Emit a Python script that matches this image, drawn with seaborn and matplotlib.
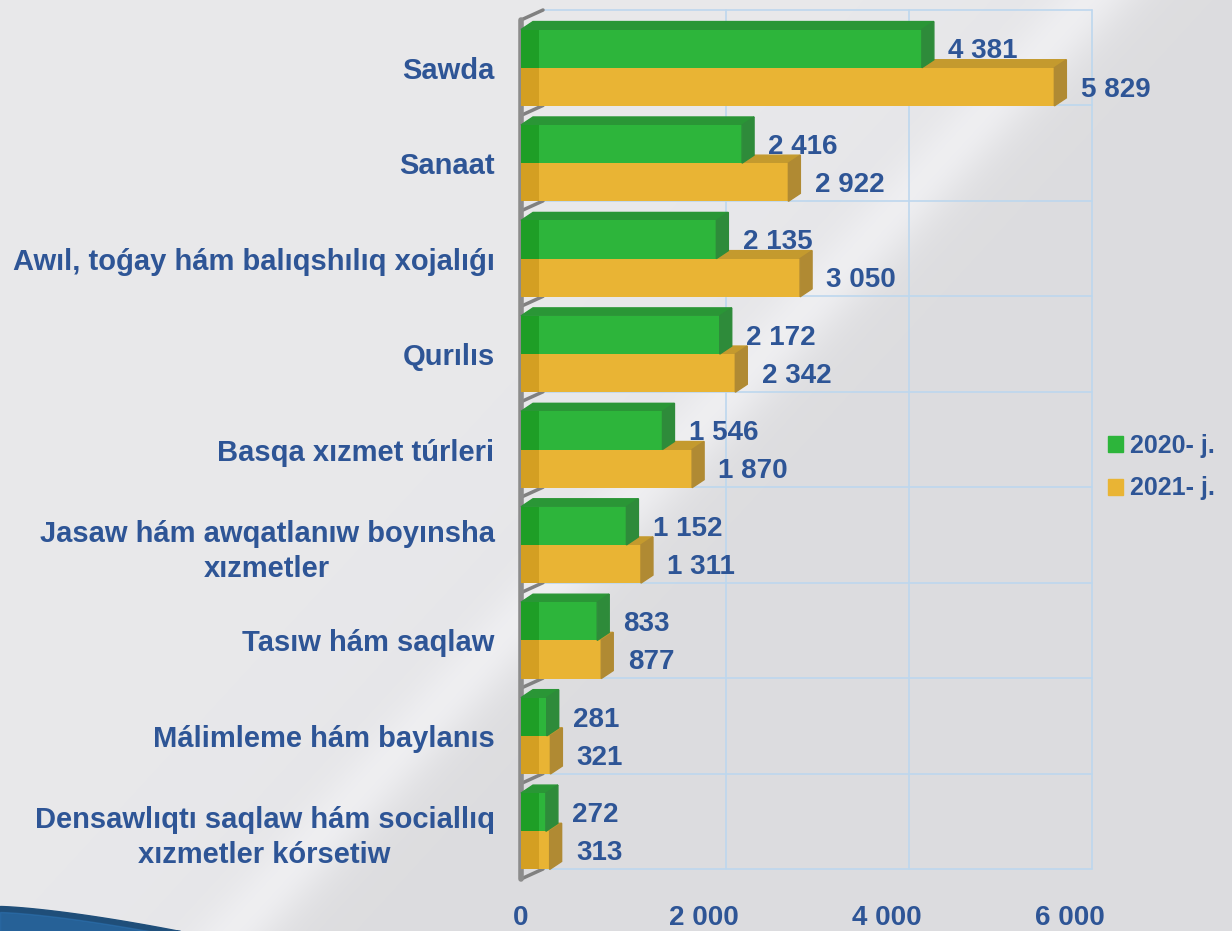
import numpy as np
import pandas as pd
import matplotlib.pyplot as plt
import seaborn as sns
from matplotlib.patches import Polygon, Rectangle

# data
sectors = ['Sawda', 'Sanaat', 'Awıl, toǵay hám balıqshılıq xojalıǵı', 'Qurılıs',
           'Basqa xızmet túrleri', 'Jasaw hám awqatlanıw boyınsha\nxızmetler',
           'Tasıw hám saqlaw', 'Málimleme hám baylanıs',
           'Densawlıqtı saqlaw hám sociallıq\nxızmetler kórsetiw']
years = ['2020- j.', '2021- j.']
values_2020 = [4381, 2416, 2135, 2172, 1546, 1152, 833, 281, 272]
values_2021 = [5829, 2922, 3050, 2342, 1870, 1311, 877, 321, 313]
x_ticks = [0, 2000, 4000, 6000]
x_tick_labels = ['0', '2 000', '4 000', '6 000']

df = pd.DataFrame({
    'sector': sectors * 2,
    'year': [years[0]] * len(sectors) + [years[1]] * len(sectors),
    'value': values_2020 + values_2021,
})

sns.set_theme(style='white')
plt.rcParams['font.family'] = ['Liberation Sans', 'DejaVu Sans']

W, H = 1232, 931
txt = '#2E5596'
green, gold = '#2DB53B', '#E9B434'
green_dark, gold_dark = '#1E9E26', '#D49F22'
green_side, gold_side = '#2E8B3A', '#B08A33'
green_top, gold_top = '#2A9636', '#C49A2E'
grid_c = '#BDD7EE'

fig = plt.figure(figsize=(W / 100, H / 100), dpi=100)

# background: soft gray with a light diagonal edge
bg = fig.add_axes([0, 0, 1, 1], zorder=-10)
yy, xx = np.mgrid[0:H, 0:W]
d = (xx + 0.92 * yy - 1080) / 40.0
base = 0.865 + 0.045 * (1 / (1 + np.exp(d)))
glow = 0.05 * np.exp(-((d - 0.3) ** 2) / 1.2)
img = np.clip(base + glow, 0, 1)
rgb = np.dstack([img, img, img + 0.01])
bg.imshow(np.clip(rgb, 0, 1), aspect='auto', extent=[0, W, H, 0])
sx = np.linspace(0, 180, 50)
sy = 906 + (sx / 180) ** 1.4 * 25
bg.fill_between(sx, sy, H, color='#1F4E79')
bg.fill_between(sx, sy + 6, H, color='#2E75B6', alpha=0.5)
bg.set_xlim(0, W)
bg.set_ylim(H, 0)
bg.axis('off')

left, right, top, bottom = 521, 1070, 20, 879
ax = fig.add_axes([left / W, 1 - bottom / H, (right - left) / W, (bottom - top) / H])
ax.patch.set_alpha(0)

sns.barplot(data=df, y='sector', x='value', hue='year', orient='h',
            palette=[green, gold], width=0.8, saturation=1, legend=False, ax=ax)
ax.set_xlim(0, 6000)
ax.set_ylim(len(sectors) - 0.5, -0.5)

px_x = (right - left) / 6000.0
px_y = (bottom - top) / len(sectors)

# 3D look: side and top faces of each bar, darker left end
dx, dy = 12 / px_x, 8 / px_y
for cont, side_c, top_c, dark_c, z in [(ax.containers[1], gold_side, gold_top, gold_dark, 2),
                                         (ax.containers[0], green_side, green_top, green_dark, 3)]:
    for p in cont.patches:
        x1 = p.get_width()
        y0, y1 = p.get_y(), p.get_y() + p.get_height()
        p.set_zorder(z + 0.5)
        p.set_edgecolor('none')
        ax.add_patch(Polygon([(x1, y0), (x1 + dx, y0 - dy), (x1 + dx, y1 - dy), (x1, y1)],
                             closed=True, color=side_c, zorder=z + 0.5, clip_on=False))
        ax.add_patch(Polygon([(0, y0), (dx, y0 - dy), (x1 + dx, y0 - dy), (x1, y0)],
                             closed=True, color=top_c, zorder=z, clip_on=False))
        ax.add_patch(Rectangle((0, y0), min(x1, 18 / px_x), y1 - y0, color=dark_c,
                               zorder=z + 0.6, lw=0))

# back-wall grid
gx, gy = 22 / px_x, 10 / px_y
bounds = np.arange(len(sectors) + 1) - 0.5
for b in bounds:
    ax.plot([gx, 6000 + gx], [b - gy, b - gy], color=grid_c, lw=1.2, zorder=0.5, clip_on=False)
    ax.plot([0, gx], [b, b - gy], color='#808080', lw=2.5, zorder=1, clip_on=False)
for t in x_ticks[1:]:
    ax.plot([t + gx, t + gx], [bounds[0] - gy, bounds[-1] - gy], color=grid_c, lw=1.2,
            zorder=0.5, clip_on=False)
ax.plot([0, 0], [bounds[0], bounds[-1]], color='#8C8C8C', lw=4, zorder=1, clip_on=False)

# value labels
for cont, vals in [(ax.containers[0], values_2020), (ax.containers[1], values_2021)]:
    for p, v in zip(cont.patches, vals):
        ax.annotate(f'{v:,}'.replace(',', ' '), xy=(p.get_width(), p.get_y() + p.get_height() / 2),
                    xytext=(19, -2), textcoords='offset points', ha='left', va='center',
                    color=txt, fontsize=20, fontweight='bold', zorder=6)

for s in ax.spines.values():
    s.set_visible(False)
ax.set_xticks(x_ticks)
ax.set_xticklabels(x_tick_labels)
ax.set_xlabel('')
ax.set_ylabel('')
ax.tick_params(axis='x', length=0, pad=19, labelsize=20, labelcolor=txt)
ax.tick_params(axis='y', length=0, pad=19, labelsize=21, labelcolor=txt)
for lab in ax.get_xticklabels():
    lab.set_fontweight('bold')
for lab in ax.get_yticklabels():
    lab.set_fontweight('bold')
    lab.set_multialignment('center')
    lab.set_linespacing(1.3)

handles = [plt.Rectangle((0, 0), 1, 1, color=green), plt.Rectangle((0, 0), 1, 1, color=gold)]
fig.legend(handles, years, loc='center left', bbox_to_anchor=(1100 / W, 1 - 467 / H),
           frameon=False, handlelength=0.6, handleheight=0.6, handletextpad=0.3,
           labelspacing=0.75, labelcolor=txt, borderaxespad=0, borderpad=0.3,
           prop={'weight': 'bold', 'size': 18})

fig.savefig('out.png', dpi=100)
